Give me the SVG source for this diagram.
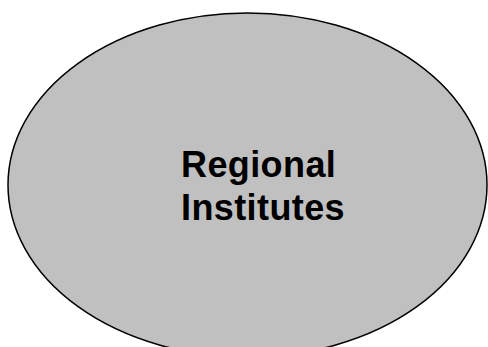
<svg xmlns="http://www.w3.org/2000/svg" width="488" height="347" viewBox="0 0 488 347">
<style>
.node{fill:#c0c0c0;stroke:#000;stroke-width:1.5}
.label{font-family:"Liberation Sans",Arial,sans-serif;font-weight:bold;font-size:36px;letter-spacing:0.4px;fill:#000}
</style>
<rect width="488" height="347" fill="#fff"/>
<g id="regional-institutes">
<ellipse class="node" cx="247.5" cy="185" rx="239.5" ry="172"/>
<text class="label" x="181" y="177">Regional</text>
<text class="label" x="181" y="220">Institutes</text>
</g>
<g id="connectors"/>
</svg>
